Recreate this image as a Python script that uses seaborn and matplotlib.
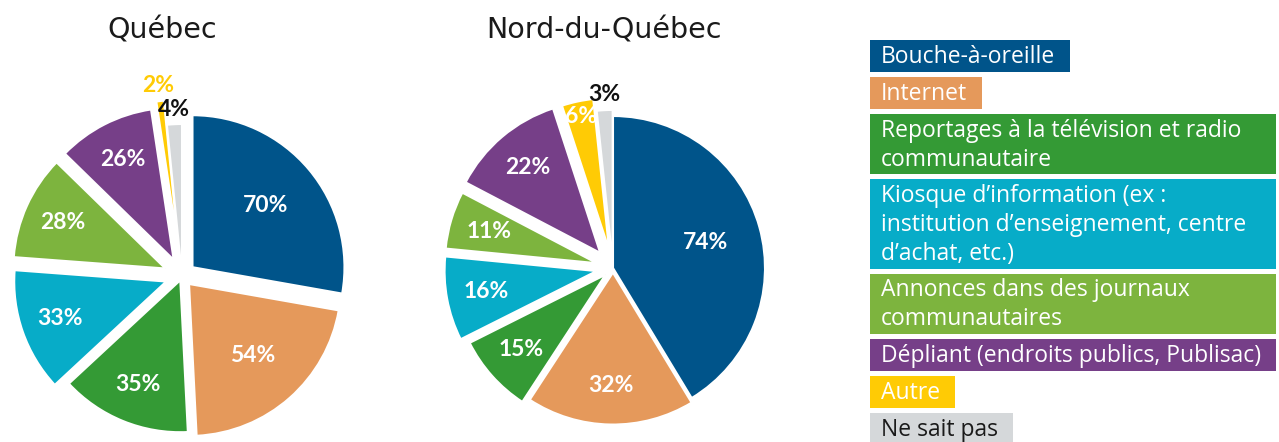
import matplotlib
matplotlib.use('Agg')
import matplotlib.pyplot as plt
import seaborn as sns
import numpy as np
from matplotlib.patches import Rectangle

categories = ['Bouche-à-oreille', 'Internet',
              'Reportages à la télévision et radio\ncommunautaire',
              'Kiosque d’information (ex :\ninstitution d’enseignement, centre\nd’achat, etc.)',
              'Annonces dans des journaux\ncommunautaires',
              'Dépliant (endroits publics, Publisac)',
              'Autre', 'Ne sait pas']
quebec = [70, 54, 35, 33, 28, 26, 2, 4]
nord = [74, 32, 15, 16, 11, 22, 6, 3]
titles = ['Québec', 'Nord-du-Québec']
colors = ['#00548A', '#E5995B', '#349A35', '#07ACC8',
          '#7DB43E', '#763F88', '#FFCB05', '#D5D8DA']

sns.set_theme(style='white')
plt.rcParams['font.family'] = ['Open Sans', 'DejaVu Sans']

W, H = 1279, 442
R = 152  # pie radius in px
fig = plt.figure(figsize=(W / 100, H / 100), dpi=100)


def draw_pie(vals, title, cx, cy, left, right, explode, title_x):
    ax = fig.add_axes([left / W, 0, (right - left) / W, 1])
    wedges, _ = ax.pie(vals, colors=colors, startangle=90, counterclock=False,
                       explode=explode,
                       wedgeprops=dict(edgecolor='white', linewidth=1.5))
    total = sum(vals)
    for w, v, c in zip(wedges, vals, colors):
        frac = v / total
        mid = np.deg2rad((w.theta1 + w.theta2) / 2)
        col = 'white'
        if frac < 0.025:
            r = 1.1
            col = '#111111' if c == colors[-1] else c
        elif frac < 0.05:
            r = 0.9
        elif frac < 0.2:
            r = 0.74
        else:
            r = 0.63
        ax.text(w.center[0] + r * np.cos(mid), w.center[1] + r * np.sin(mid),
                f'{v}%', ha='center', va='center', color=col,
                fontsize=16.5, fontweight='bold', family=['Lato', 'DejaVu Sans'])
    ax.set_aspect('auto')
    ax.set_xlim((left - cx) / R, (right - cx) / R)
    ax.set_ylim((cy - H) / R, cy / R)
    ax.axis('off')
    fig.text(title_x / W, 1 - 30 / H, title, ha='center', va='center',
             fontsize=20.5, color='#1a1a1a', family=['DejaVu Sans'])


draw_pie(quebec, titles[0], 182, 276, 0, 400,
         [0.09, 0.07, 0.03, 0.11, 0.12, 0.12, 0.16, 0.0], 162)
draw_pie(nord, titles[1], 613, 268, 420, 830,
         [0.0, 0.03, 0.066, 0.11, 0.11, 0.13, 0.12, 0.04], 604)

# legend as coloured boxes
renderer = fig.canvas.get_renderer()
top = 40
for lab, c in zip(categories, colors):
    lines = lab.split('\n')
    tc = '#1a1a1a' if c == colors[-1] else 'white'
    texts = [fig.text(881 / W, 1 - (top + 23 + 28.5 * i) / H, ln, fontsize=16.5,
                      color=tc, va='baseline', zorder=3)
             for i, ln in enumerate(lines)]
    h = 32 + 28.5 * (len(lines) - 1)
    if len(lines) > 1:
        right = 1276
    else:
        right = min(1276, texts[0].get_window_extent(renderer).x1 + 15)
    fig.patches.append(Rectangle((870 / W, 1 - (top + h) / H), (right - 870) / W, h / H,
                                 transform=fig.transFigure, facecolor=c,
                                 edgecolor='none', zorder=1))
    top += h + 5

fig.savefig('out.png', dpi=100)
